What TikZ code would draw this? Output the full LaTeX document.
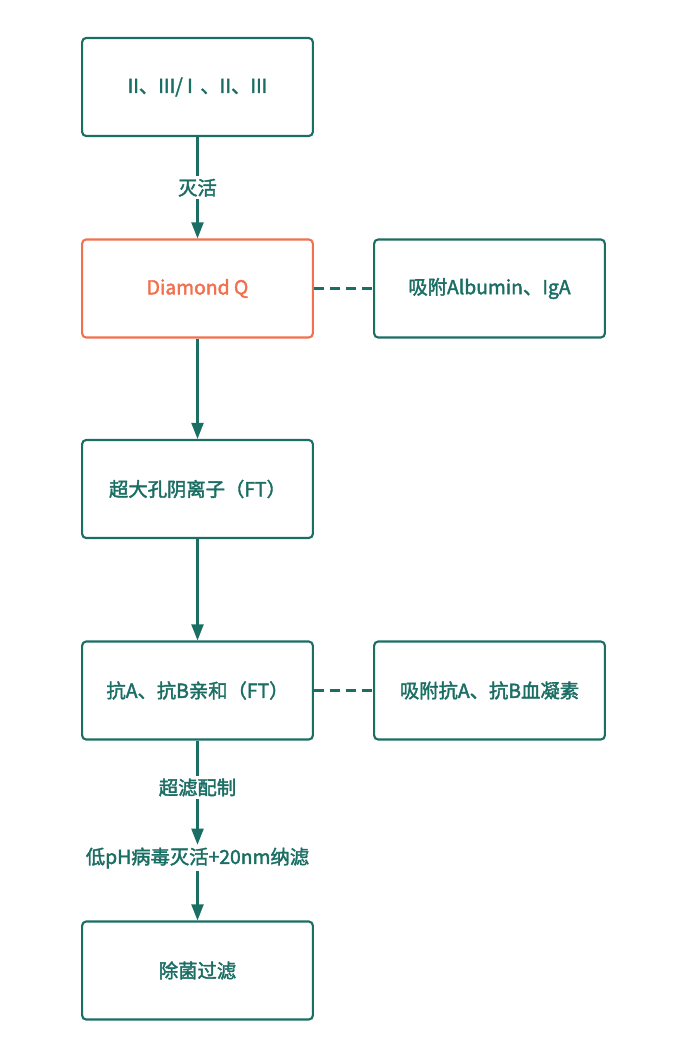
\documentclass[tikz,border=0pt]{standalone}
\usepackage{fontspec}
\setmainfont{Noto Sans CJK SC}[FakeBold=2]
\usepackage{tikz}
\usetikzlibrary{arrows.meta}
\definecolor{teal1}{HTML}{1B6E64}
\definecolor{orange1}{HTML}{F2704E}
\tikzset{%
    stepbox/.style={draw=teal1,line width=1.6pt,rounded corners=3pt,fill=white,
        minimum width=173pt,minimum height=73.5pt,text=teal1,font=\fontsize{14.5}{17}\selectfont},
    hotbox/.style={stepbox,draw=orange1,text=orange1},
    lbl/.style={fill=white,text=teal1,inner sep=2pt,font=\fontsize{14.5}{17}\selectfont}
}
\begin{document}
\begin{tikzpicture}[
            x=0.75pt,y=-0.75pt,
            flow/.style={draw=teal1,line width=1.6pt,-{Triangle[width=9pt,length=12pt]}},
            side/.style={draw=teal1,line width=1.6pt,dash pattern=on 7.5pt off 4.5pt}
            ]
            \useasboundingbox (0,0) rectangle (687,1057);
            \node[stepbox] (raw) at (197.5,87){II、III/ I \,、II、III};
            \node[hotbox] (dq) at (197.5,288.5){Diamond Q};
            \node[stepbox] (ft) at (197.5,489){超大孔阴离子（FT）};
            \node[stepbox] (ab) at (197.5,690.5){抗A、抗B亲和（FT）};
            \node[stepbox] (sterile) at (197.5,970.5){除菌过滤};
            \node[stepbox] (alb) at (489.5,288.5){吸附Albumin、IgA};
            \node[stepbox] (hem) at (489.5,690.5){吸附抗A、抗B血凝素};
            \node[lbl] (vi) at (197.5,858){低pH病毒灭活+20nm纳滤};
            \draw[flow] (raw) -- node[lbl]{灭活} (dq);
            \draw[flow] (dq) -- (ft);
            \draw[flow] (ft) -- (ab);
            \draw[flow] (ab) -- node[lbl,pos=0.45]{超滤配制} (vi);
            \draw[flow] (vi) -- (sterile);
            \draw[side] (dq) -- (alb);
            \draw[side] (ab) -- (hem);
        \end{tikzpicture}
\end{document}
